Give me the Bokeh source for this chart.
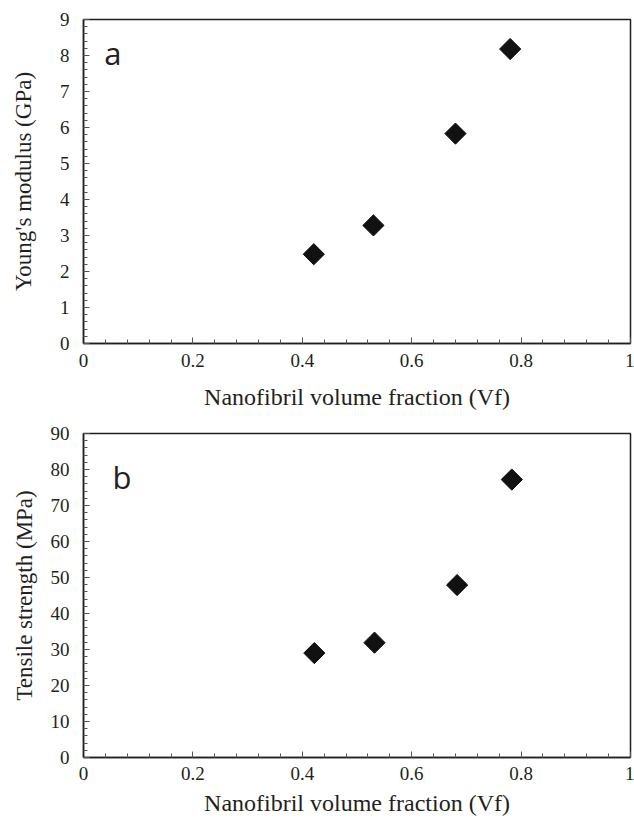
from bokeh.plotting import figure
from bokeh.layouts import column
from bokeh.models import Range1d, SingleIntervalTicker, CustomJSTickFormatter, Label, ColumnDataSource
from bokeh.embed import file_html
from bokeh.resources import INLINE
import math

# Data
vf_a = [0.421, 0.530, 0.680, 0.780]
modulus = [2.48, 3.28, 5.83, 8.18]
vf_b = [0.422, 0.532, 0.683, 0.783]
strength = [29.0, 31.9, 47.9, 77.2]

x_label = "Nanofibril volume fraction (Vf)"
y_label_a = "Young's modulus (GPa)"
y_label_b = "Tensile strength (MPa)"

TXT = "#231f20"
SERIF = "Liberation Serif"

fmt = CustomJSTickFormatter(code="return String(Math.round(tick*10)/10);")


def make_fig(height, left, right, top, bottom, ymax, yint, ylab, ylab_standoff,
             xlab_standoff, lh, xtick_standoff):
    p = figure(width=634, height=height, output_backend="svg", toolbar_location=None,
               x_range=Range1d(0, 1), y_range=Range1d(0, ymax),
               min_border_left=left, min_border_right=right,
               min_border_top=top, min_border_bottom=bottom)
    p.grid.visible = False
    p.outline_line_color = TXT
    p.outline_line_width = 1.5
    p.background_fill_color = "white"
    p.border_fill_color = "white"
    p.xaxis.ticker = SingleIntervalTicker(interval=0.2, num_minor_ticks=5)
    p.yaxis.ticker = SingleIntervalTicker(interval=yint, num_minor_ticks=5)
    p.xaxis.formatter = fmt
    for ax in (p.xaxis, p.yaxis):
        ax.axis_line_color = TXT
        ax.axis_line_width = 1.5
        ax.major_tick_in = 6
        ax.major_tick_out = 0
        ax.minor_tick_in = 4
        ax.minor_tick_out = 0
        ax.major_tick_line_color = "#555555"
        ax.minor_tick_line_color = "#555555"
        ax.major_label_text_font = SERIF
        ax.major_label_text_font_size = "19px"
        ax.major_label_text_color = TXT
        ax.axis_label_text_font = SERIF
        ax.axis_label_text_font_style = "normal"
        ax.axis_label_text_color = TXT
    p.xaxis.axis_label_text_font_size = "24px"
    p.yaxis.axis_label_text_font_size = "23px"
    p.xaxis.axis_label_text_line_height = lh
    p.xaxis.major_label_text_line_height = lh
    p.xaxis.major_label_standoff = xtick_standoff
    p.yaxis.major_label_standoff = 14
    p.xaxis.axis_label = x_label
    p.yaxis.axis_label = ylab
    p.xaxis.axis_label_standoff = xlab_standoff
    p.yaxis.axis_label_standoff = ylab_standoff
    return p


pa = make_fig(413, 81, 4, 19, 70, 9, 1, y_label_a, 21, 14, 1.2, 10)
pa.scatter(x="x", y="y", source=ColumnDataSource(dict(x=vf_a, y=modulus)),
           marker="square", size=15, angle=math.pi / 4,
           fill_color="#111111", line_color="#111111")
pa.add_layout(Label(x=0.038, y=8.06, text="a", text_font="Open Sans",
                    text_font_size="31px", text_color=TXT, text_baseline="alphabetic"))

pb = make_fig(407, 83, 2, 20, 63, 90, 10, y_label_b, 11, 7, 1.0, 9)
pb.scatter(x="x", y="y", source=ColumnDataSource(dict(x=vf_b, y=strength)),
           marker="square", size=15, angle=math.pi / 4,
           fill_color="#111111", line_color="#111111")
pb.add_layout(Label(x=0.053, y=78, text="b", text_font="Open Sans",
                    text_font_size="31px", text_color=TXT, text_baseline="alphabetic"))

layout = column(pa, pb, spacing=0)
open("out.html", "w").write(file_html(layout, INLINE))
